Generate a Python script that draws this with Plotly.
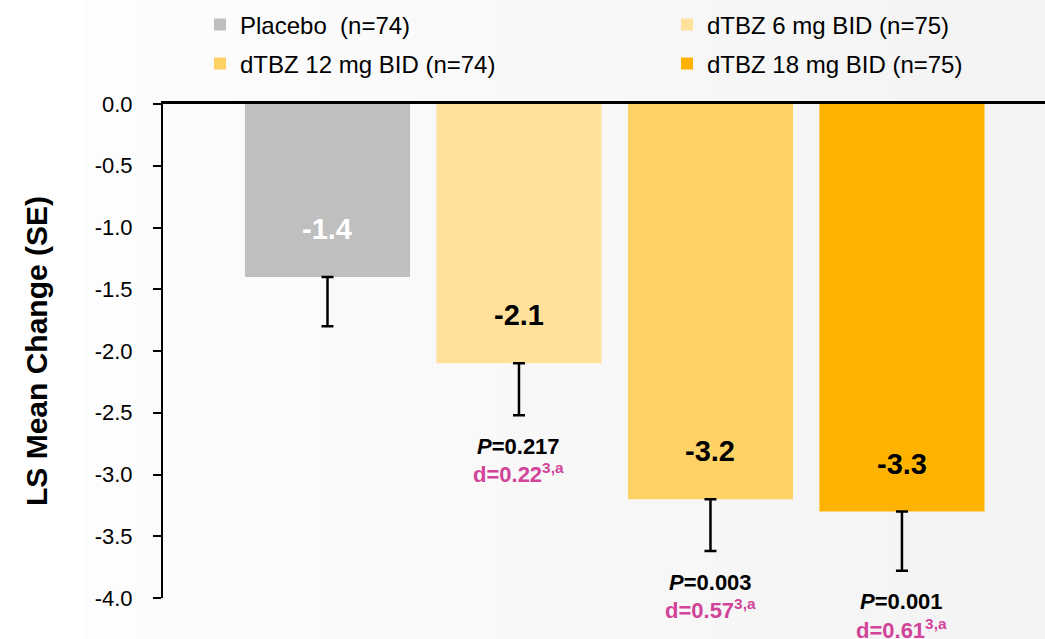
import plotly.graph_objects as go

# Treatment groups and results
groups = ["Placebo", "dTBZ 6 mg BID", "dTBZ 12 mg BID", "dTBZ 18 mg BID"]
legend_names = ["Placebo\u00a0\u00a0(n=74)", "dTBZ 6 mg BID (n=75)",
                "dTBZ 12 mg BID (n=74)", "dTBZ 18 mg BID (n=75)"]
ls_mean = [-1.4, -2.1, -3.2, -3.3]
se = [0.40, 0.42, 0.42, 0.48]
p_values = [None, "0.217", "0.003", "0.001"]
effect_d = [None, "0.22", "0.57", "0.61"]

# y-axis ticks
tick_vals = [0.0, -0.5, -1.0, -1.5, -2.0, -2.5, -3.0, -3.5, -4.0]
tick_text = ["0.0", "-0.5", "-1.0", "-1.5", "-2.0", "-2.5", "-3.0", "-3.5", "-4.0"]

colors = ["#bfbfbf", "#ffe19c", "#ffd266", "#ffb300"]
label_colors = ["white", "black", "black", "black"]
PINK = "#d1449a"
FONT = "Arial, Liberation Sans, sans-serif"

W, H = 1045, 639
L, R, T, B = 163, 0, 104, 41
plot_w, plot_h = W - L - R, H - T - B


def px_x(px):
    return (px - L) / plot_w


def px_y(py):
    return (H - B - py) / plot_h


# legend grid: two columns, two rows
legend_ids = ["legend", "legend2", "legend3", "legend4"]
legend_pos = [(200, 25), (667, 25), (200, 64), (667, 64)]

fig = go.Figure()

for i, g in enumerate(groups):
    fig.add_trace(go.Bar(
        x=[i], y=[ls_mean[i]], name=legend_names[i],
        marker=dict(color=colors[i], line=dict(width=0)),
        width=0.862,
        error_y=dict(type="data", symmetric=False, array=[0], arrayminus=[se[i]],
                     color="black", thickness=2.5, width=6),
        legend=legend_ids[i],
        hoverinfo="skip",
    ))

annotations = []
for i, v in enumerate(ls_mean):
    annotations.append(dict(
        x=i, y=v, xref="x", yref="y", text=f"<b>{v:.1f}</b>", showarrow=False,
        yshift=48, font=dict(family=FONT, size=29, color=label_colors[i]),
    ))
    if p_values[i] is not None:
        low = v - se[i]
        annotations.append(dict(
            x=i, y=low, xref="x", yref="y", showarrow=False, yshift=-31,
            text=f"<b><i>P</i>={p_values[i]}</b>",
            font=dict(family=FONT, size=22, color="black"),
        ))
        annotations.append(dict(
            x=i, y=low, xref="x", yref="y", showarrow=False, yshift=-58,
            text=f"<b>d={effect_d[i]}<sup>3,a</sup></b>",
            font=dict(family=FONT, size=22, color=PINK),
        ))

# soft left-to-right background shading
shapes = []
x_start, n_strips = 83, 32
step = (W - x_start) / n_strips
for k in range(n_strips):
    shade = round(253 - 10 * (k + 0.5) / n_strips)
    shapes.append(dict(
        type="rect", xref="paper", yref="paper", layer="below",
        x0=px_x(x_start + k * step), x1=px_x(x_start + (k + 1) * step + 1),
        y0=px_y(H), y1=px_y(0),
        fillcolor=f"rgb({shade},{shade},{shade})", line=dict(width=0),
    ))

legends = {}
for lid, (lx, ly) in zip(legend_ids, legend_pos):
    legends[lid] = dict(
        orientation="h", xref="paper", yref="paper", xanchor="left", yanchor="middle",
        x=px_x(lx), y=px_y(ly),
        font=dict(family=FONT, size=24, color="black"),
        bgcolor="rgba(0,0,0,0)", itemclick=False, itemdoubleclick=False,
    )

fig.update_layout(
    width=W, height=H,
    margin=dict(l=L, r=R, t=T, b=B, pad=0, autoexpand=False),
    paper_bgcolor="white", plot_bgcolor="rgba(0,0,0,0)",
    barmode="overlay",
    showlegend=True,
    xaxis=dict(
        range=[-0.859, 3.747], side="top", showline=True, linecolor="black",
        linewidth=2.5, showticklabels=False, ticks="", showgrid=False,
        zeroline=False, fixedrange=True,
    ),
    yaxis=dict(
        range=[-4, 0], tickvals=tick_vals, ticktext=tick_text,
        showline=True, linecolor="black", linewidth=2,
        ticks="outside", ticklen=8, tickwidth=2, tickcolor="black",
        ticklabelstandoff=16,
        tickfont=dict(family=FONT, size=22, color="black"),
        showgrid=False, zeroline=False, fixedrange=True,
        title=dict(text="<b>LS Mean Change (SE)</b>", standoff=38,
                   font=dict(family=FONT, size=30, color="black")),
    ),
    annotations=annotations,
    shapes=shapes,
    **legends,
)

fig.write_html("out.html")
